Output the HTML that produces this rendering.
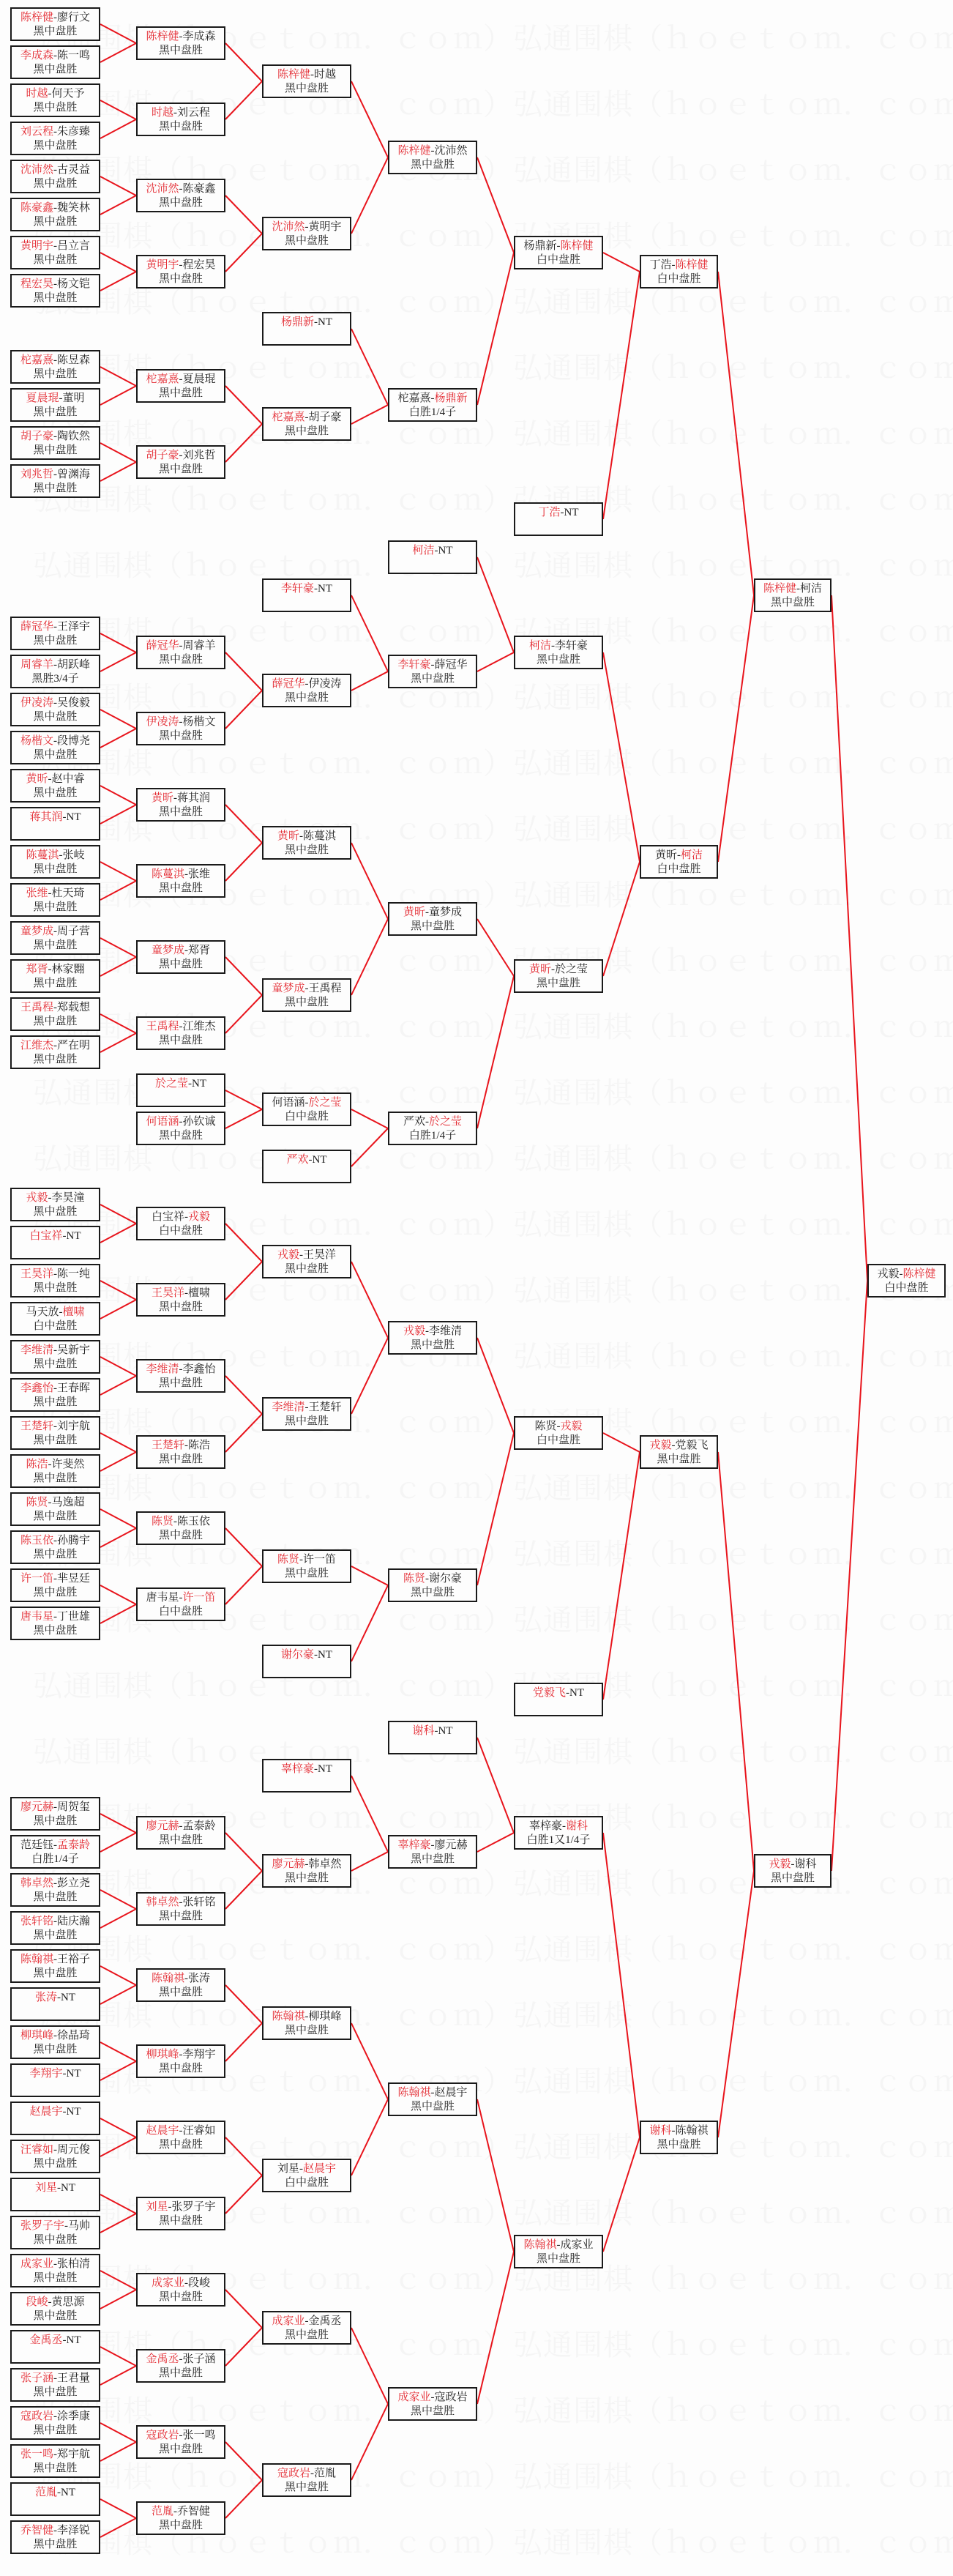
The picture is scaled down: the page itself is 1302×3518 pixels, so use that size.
<!DOCTYPE html>
<html><head><meta charset="utf-8">
<style>
html,body{margin:0;padding:0;}
body{width:1302px;height:3497px;position:relative;background:#fdfdfd;overflow:hidden;
font-family:"Liberation Serif","Noto Serif CJK SC",serif;}
.wm{position:absolute;left:45px;top:8px;font-family:"Liberation Serif","Noto Serif CJK SC",serif;font-size:40px;line-height:90px;color:#f5f5f5;white-space:pre;letter-spacing:1px;}
svg{position:absolute;left:0;top:0;}
.b{position:absolute;box-sizing:border-box;height:46px;border:2px solid #1a1a1a;background:#fdfdfd;
text-align:center;font-size:15px;line-height:19px;padding-top:3px;color:#222;white-space:nowrap;}
.b i{font-style:normal;color:#e3262e;}
.c1{left:14px;width:123px}.c2{left:186px;width:122px}.c3{left:358px;width:122px}
.c4{left:530px;width:122px}.c5{left:702px;width:122px}.c6{left:874px;width:107px}
.c7{left:1030px;width:106px}.c8{left:1185px;width:107px}
</style></head><body>
<div class="wm">弘通围棋（ｈｏｅｔｏｍ．ｃｏｍ）弘通围棋（ｈｏｅｔｏｍ．ｃｏｍ）
弘通围棋（ｈｏｅｔｏｍ．ｃｏｍ）弘通围棋（ｈｏｅｔｏｍ．ｃｏｍ）
弘通围棋（ｈｏｅｔｏｍ．ｃｏｍ）弘通围棋（ｈｏｅｔｏｍ．ｃｏｍ）
弘通围棋（ｈｏｅｔｏｍ．ｃｏｍ）弘通围棋（ｈｏｅｔｏｍ．ｃｏｍ）
弘通围棋（ｈｏｅｔｏｍ．ｃｏｍ）弘通围棋（ｈｏｅｔｏｍ．ｃｏｍ）
弘通围棋（ｈｏｅｔｏｍ．ｃｏｍ）弘通围棋（ｈｏｅｔｏｍ．ｃｏｍ）
弘通围棋（ｈｏｅｔｏｍ．ｃｏｍ）弘通围棋（ｈｏｅｔｏｍ．ｃｏｍ）
弘通围棋（ｈｏｅｔｏｍ．ｃｏｍ）弘通围棋（ｈｏｅｔｏｍ．ｃｏｍ）
弘通围棋（ｈｏｅｔｏｍ．ｃｏｍ）弘通围棋（ｈｏｅｔｏｍ．ｃｏｍ）
弘通围棋（ｈｏｅｔｏｍ．ｃｏｍ）弘通围棋（ｈｏｅｔｏｍ．ｃｏｍ）
弘通围棋（ｈｏｅｔｏｍ．ｃｏｍ）弘通围棋（ｈｏｅｔｏｍ．ｃｏｍ）
弘通围棋（ｈｏｅｔｏｍ．ｃｏｍ）弘通围棋（ｈｏｅｔｏｍ．ｃｏｍ）
弘通围棋（ｈｏｅｔｏｍ．ｃｏｍ）弘通围棋（ｈｏｅｔｏｍ．ｃｏｍ）
弘通围棋（ｈｏｅｔｏｍ．ｃｏｍ）弘通围棋（ｈｏｅｔｏｍ．ｃｏｍ）
弘通围棋（ｈｏｅｔｏｍ．ｃｏｍ）弘通围棋（ｈｏｅｔｏｍ．ｃｏｍ）
弘通围棋（ｈｏｅｔｏｍ．ｃｏｍ）弘通围棋（ｈｏｅｔｏｍ．ｃｏｍ）
弘通围棋（ｈｏｅｔｏｍ．ｃｏｍ）弘通围棋（ｈｏｅｔｏｍ．ｃｏｍ）
弘通围棋（ｈｏｅｔｏｍ．ｃｏｍ）弘通围棋（ｈｏｅｔｏｍ．ｃｏｍ）
弘通围棋（ｈｏｅｔｏｍ．ｃｏｍ）弘通围棋（ｈｏｅｔｏｍ．ｃｏｍ）
弘通围棋（ｈｏｅｔｏｍ．ｃｏｍ）弘通围棋（ｈｏｅｔｏｍ．ｃｏｍ）
弘通围棋（ｈｏｅｔｏｍ．ｃｏｍ）弘通围棋（ｈｏｅｔｏｍ．ｃｏｍ）
弘通围棋（ｈｏｅｔｏｍ．ｃｏｍ）弘通围棋（ｈｏｅｔｏｍ．ｃｏｍ）
弘通围棋（ｈｏｅｔｏｍ．ｃｏｍ）弘通围棋（ｈｏｅｔｏｍ．ｃｏｍ）
弘通围棋（ｈｏｅｔｏｍ．ｃｏｍ）弘通围棋（ｈｏｅｔｏｍ．ｃｏｍ）
弘通围棋（ｈｏｅｔｏｍ．ｃｏｍ）弘通围棋（ｈｏｅｔｏｍ．ｃｏｍ）
弘通围棋（ｈｏｅｔｏｍ．ｃｏｍ）弘通围棋（ｈｏｅｔｏｍ．ｃｏｍ）
弘通围棋（ｈｏｅｔｏｍ．ｃｏｍ）弘通围棋（ｈｏｅｔｏｍ．ｃｏｍ）
弘通围棋（ｈｏｅｔｏｍ．ｃｏｍ）弘通围棋（ｈｏｅｔｏｍ．ｃｏｍ）
弘通围棋（ｈｏｅｔｏｍ．ｃｏｍ）弘通围棋（ｈｏｅｔｏｍ．ｃｏｍ）
弘通围棋（ｈｏｅｔｏｍ．ｃｏｍ）弘通围棋（ｈｏｅｔｏｍ．ｃｏｍ）
弘通围棋（ｈｏｅｔｏｍ．ｃｏｍ）弘通围棋（ｈｏｅｔｏｍ．ｃｏｍ）
弘通围棋（ｈｏｅｔｏｍ．ｃｏｍ）弘通围棋（ｈｏｅｔｏｍ．ｃｏｍ）
弘通围棋（ｈｏｅｔｏｍ．ｃｏｍ）弘通围棋（ｈｏｅｔｏｍ．ｃｏｍ）
弘通围棋（ｈｏｅｔｏｍ．ｃｏｍ）弘通围棋（ｈｏｅｔｏｍ．ｃｏｍ）
弘通围棋（ｈｏｅｔｏｍ．ｃｏｍ）弘通围棋（ｈｏｅｔｏｍ．ｃｏｍ）
弘通围棋（ｈｏｅｔｏｍ．ｃｏｍ）弘通围棋（ｈｏｅｔｏｍ．ｃｏｍ）
弘通围棋（ｈｏｅｔｏｍ．ｃｏｍ）弘通围棋（ｈｏｅｔｏｍ．ｃｏｍ）
弘通围棋（ｈｏｅｔｏｍ．ｃｏｍ）弘通围棋（ｈｏｅｔｏｍ．ｃｏｍ）
弘通围棋（ｈｏｅｔｏｍ．ｃｏｍ）弘通围棋（ｈｏｅｔｏｍ．ｃｏｍ）</div>

<svg width="1302" height="3497" viewBox="0 0 1302 3497">
<g fill="none" stroke="#e8141c" stroke-width="2">
<polyline points="137,33 186,59 137,85"/>
<polyline points="137,137 186,163 137,189"/>
<polyline points="137,241 186,267 137,293"/>
<polyline points="137,345 186,371 137,397"/>
<polyline points="137,501 186,527 137,553"/>
<polyline points="137,605 186,631 137,657"/>
<polyline points="137,865 186,891 137,917"/>
<polyline points="137,969 186,995 137,1021"/>
<polyline points="137,1073 186,1099 137,1125"/>
<polyline points="137,1177 186,1203 137,1229"/>
<polyline points="137,1281 186,1307 137,1333"/>
<polyline points="137,1385 186,1411 137,1437"/>
<polyline points="137,1645 186,1671 137,1697"/>
<polyline points="137,1749 186,1775 137,1801"/>
<polyline points="137,1853 186,1879 137,1905"/>
<polyline points="137,1957 186,1983 137,2009"/>
<polyline points="137,2061 186,2087 137,2113"/>
<polyline points="137,2165 186,2191 137,2217"/>
<polyline points="137,2477 186,2503 137,2529"/>
<polyline points="137,2581 186,2607 137,2633"/>
<polyline points="137,2685 186,2711 137,2737"/>
<polyline points="137,2789 186,2815 137,2841"/>
<polyline points="137,2893 186,2919 137,2945"/>
<polyline points="137,2997 186,3023 137,3049"/>
<polyline points="137,3101 186,3127 137,3153"/>
<polyline points="137,3205 186,3231 137,3257"/>
<polyline points="137,3309 186,3335 137,3361"/>
<polyline points="137,3413 186,3439 137,3465"/>
<polyline points="308,59 358,111 308,163"/>
<polyline points="308,267 358,319 308,371"/>
<polyline points="308,527 358,579 308,631"/>
<polyline points="308,891 358,943 308,995"/>
<polyline points="308,1099 358,1151 308,1203"/>
<polyline points="308,1307 358,1359 308,1411"/>
<polyline points="308,1489 358,1515 308,1541"/>
<polyline points="308,1671 358,1723 308,1775"/>
<polyline points="308,1879 358,1931 308,1983"/>
<polyline points="308,2087 358,2139 308,2191"/>
<polyline points="308,2503 358,2555 308,2607"/>
<polyline points="308,2711 358,2763 308,2815"/>
<polyline points="308,2919 358,2971 308,3023"/>
<polyline points="308,3127 358,3179 308,3231"/>
<polyline points="308,3335 358,3387 308,3439"/>
<polyline points="480,111 530,215 480,319"/>
<polyline points="480,449 530,553 480,579"/>
<polyline points="480,813 530,917 480,943"/>
<polyline points="480,1151 530,1255 480,1359"/>
<polyline points="480,1515 530,1541 480,1593"/>
<polyline points="480,1723 530,1827 480,1931"/>
<polyline points="480,2139 530,2165 480,2269"/>
<polyline points="480,2425 530,2529 480,2555"/>
<polyline points="480,2763 530,2867 480,2971"/>
<polyline points="480,3179 530,3283 480,3387"/>
<polyline points="652,215 702,345 652,553"/>
<polyline points="652,761 702,891 652,917"/>
<polyline points="652,1255 702,1333 652,1541"/>
<polyline points="652,1827 702,1957 652,2165"/>
<polyline points="652,2373 702,2503 652,2529"/>
<polyline points="652,2867 702,3075 652,3283"/>
<polyline points="824,345 874,371 824,709"/>
<polyline points="824,891 874,1177 824,1333"/>
<polyline points="824,1957 874,1983 824,2321"/>
<polyline points="824,2503 874,2919 824,3075"/>
<polyline points="981,371 1030,813 981,1177"/>
<polyline points="981,1983 1030,2555 981,2919"/>
<polyline points="1136,813 1185,1749 1136,2555"/>
</g>
</svg>

<div class="b c1" style="top:10px"><i>陈梓健</i>-廖行文<br>黑中盘胜</div>
<div class="b c1" style="top:62px"><i>李成森</i>-陈一鸣<br>黑中盘胜</div>
<div class="b c1" style="top:114px"><i>时越</i>-何天予<br>黑中盘胜</div>
<div class="b c1" style="top:166px"><i>刘云程</i>-朱彦臻<br>黑中盘胜</div>
<div class="b c1" style="top:218px"><i>沈沛然</i>-古灵益<br>黑中盘胜</div>
<div class="b c1" style="top:270px"><i>陈豪鑫</i>-魏笑林<br>黑中盘胜</div>
<div class="b c1" style="top:322px"><i>黄明宇</i>-吕立言<br>黑中盘胜</div>
<div class="b c1" style="top:374px"><i>程宏昊</i>-杨文铠<br>黑中盘胜</div>
<div class="b c1" style="top:478px"><i>柁嘉熹</i>-陈昱森<br>黑中盘胜</div>
<div class="b c1" style="top:530px"><i>夏晨琨</i>-董明<br>黑中盘胜</div>
<div class="b c1" style="top:582px"><i>胡子豪</i>-陶钦然<br>黑中盘胜</div>
<div class="b c1" style="top:634px"><i>刘兆哲</i>-曾渊海<br>黑中盘胜</div>
<div class="b c1" style="top:842px"><i>薛冠华</i>-王泽宇<br>黑中盘胜</div>
<div class="b c1" style="top:894px"><i>周睿羊</i>-胡跃峰<br>黑胜3/4子</div>
<div class="b c1" style="top:946px"><i>伊凌涛</i>-吴俊毅<br>黑中盘胜</div>
<div class="b c1" style="top:998px"><i>杨楷文</i>-段博尧<br>黑中盘胜</div>
<div class="b c1" style="top:1050px"><i>黄昕</i>-赵中睿<br>黑中盘胜</div>
<div class="b c1" style="top:1102px"><i>蒋其润</i>-NT<br></div>
<div class="b c1" style="top:1154px"><i>陈蔓淇</i>-张岐<br>黑中盘胜</div>
<div class="b c1" style="top:1206px"><i>张维</i>-杜天琦<br>黑中盘胜</div>
<div class="b c1" style="top:1258px"><i>童梦成</i>-周子营<br>黑中盘胜</div>
<div class="b c1" style="top:1310px"><i>郑胥</i>-林家翾<br>黑中盘胜</div>
<div class="b c1" style="top:1362px"><i>王禹程</i>-郑载想<br>黑中盘胜</div>
<div class="b c1" style="top:1414px"><i>江维杰</i>-严在明<br>黑中盘胜</div>
<div class="b c1" style="top:1622px"><i>戎毅</i>-李昊潼<br>黑中盘胜</div>
<div class="b c1" style="top:1674px"><i>白宝祥</i>-NT<br></div>
<div class="b c1" style="top:1726px"><i>王昊洋</i>-陈一纯<br>黑中盘胜</div>
<div class="b c1" style="top:1778px">马天放-<i>檀啸</i><br>白中盘胜</div>
<div class="b c1" style="top:1830px"><i>李维清</i>-吴新宇<br>黑中盘胜</div>
<div class="b c1" style="top:1882px"><i>李鑫怡</i>-王春晖<br>黑中盘胜</div>
<div class="b c1" style="top:1934px"><i>王楚轩</i>-刘宇航<br>黑中盘胜</div>
<div class="b c1" style="top:1986px"><i>陈浩</i>-许斐然<br>黑中盘胜</div>
<div class="b c1" style="top:2038px"><i>陈贤</i>-马逸超<br>黑中盘胜</div>
<div class="b c1" style="top:2090px"><i>陈玉依</i>-孙腾宇<br>黑中盘胜</div>
<div class="b c1" style="top:2142px"><i>许一笛</i>-芈昱廷<br>黑中盘胜</div>
<div class="b c1" style="top:2194px"><i>唐韦星</i>-丁世雄<br>黑中盘胜</div>
<div class="b c1" style="top:2454px"><i>廖元赫</i>-周贺玺<br>黑中盘胜</div>
<div class="b c1" style="top:2506px">范廷钰-<i>孟泰龄</i><br>白胜1/4子</div>
<div class="b c1" style="top:2558px"><i>韩卓然</i>-彭立尧<br>黑中盘胜</div>
<div class="b c1" style="top:2610px"><i>张轩铭</i>-陆庆瀚<br>黑中盘胜</div>
<div class="b c1" style="top:2662px"><i>陈翰祺</i>-王裕子<br>黑中盘胜</div>
<div class="b c1" style="top:2714px"><i>张涛</i>-NT<br></div>
<div class="b c1" style="top:2766px"><i>柳琪峰</i>-徐晶琦<br>黑中盘胜</div>
<div class="b c1" style="top:2818px"><i>李翔宇</i>-NT<br></div>
<div class="b c1" style="top:2870px"><i>赵晨宇</i>-NT<br></div>
<div class="b c1" style="top:2922px"><i>汪睿如</i>-周元俊<br>黑中盘胜</div>
<div class="b c1" style="top:2974px"><i>刘星</i>-NT<br></div>
<div class="b c1" style="top:3026px"><i>张罗子宇</i>-马帅<br>黑中盘胜</div>
<div class="b c1" style="top:3078px"><i>成家业</i>-张柏清<br>黑中盘胜</div>
<div class="b c1" style="top:3130px"><i>段峻</i>-黄思源<br>黑中盘胜</div>
<div class="b c1" style="top:3182px"><i>金禹丞</i>-NT<br></div>
<div class="b c1" style="top:3234px"><i>张子涵</i>-王君量<br>黑中盘胜</div>
<div class="b c1" style="top:3286px"><i>寇政岩</i>-涂季康<br>黑中盘胜</div>
<div class="b c1" style="top:3338px"><i>张一鸣</i>-郑宇航<br>黑中盘胜</div>
<div class="b c1" style="top:3390px"><i>范胤</i>-NT<br></div>
<div class="b c1" style="top:3442px"><i>乔智健</i>-李泽锐<br>黑中盘胜</div>

<div class="b c2" style="top:36px"><i>陈梓健</i>-李成森<br>黑中盘胜</div>
<div class="b c2" style="top:140px"><i>时越</i>-刘云程<br>黑中盘胜</div>
<div class="b c2" style="top:244px"><i>沈沛然</i>-陈豪鑫<br>黑中盘胜</div>
<div class="b c2" style="top:348px"><i>黄明宇</i>-程宏昊<br>黑中盘胜</div>
<div class="b c2" style="top:504px"><i>柁嘉熹</i>-夏晨琨<br>黑中盘胜</div>
<div class="b c2" style="top:608px"><i>胡子豪</i>-刘兆哲<br>黑中盘胜</div>
<div class="b c2" style="top:868px"><i>薛冠华</i>-周睿羊<br>黑中盘胜</div>
<div class="b c2" style="top:972px"><i>伊凌涛</i>-杨楷文<br>黑中盘胜</div>
<div class="b c2" style="top:1076px"><i>黄昕</i>-蒋其润<br>黑中盘胜</div>
<div class="b c2" style="top:1180px"><i>陈蔓淇</i>-张维<br>黑中盘胜</div>
<div class="b c2" style="top:1284px"><i>童梦成</i>-郑胥<br>黑中盘胜</div>
<div class="b c2" style="top:1388px"><i>王禹程</i>-江维杰<br>黑中盘胜</div>
<div class="b c2" style="top:1466px"><i>於之莹</i>-NT<br></div>
<div class="b c2" style="top:1518px"><i>何语涵</i>-孙钦诚<br>黑中盘胜</div>
<div class="b c2" style="top:1648px">白宝祥-<i>戎毅</i><br>白中盘胜</div>
<div class="b c2" style="top:1752px"><i>王昊洋</i>-檀啸<br>黑中盘胜</div>
<div class="b c2" style="top:1856px"><i>李维清</i>-李鑫怡<br>黑中盘胜</div>
<div class="b c2" style="top:1960px"><i>王楚轩</i>-陈浩<br>黑中盘胜</div>
<div class="b c2" style="top:2064px"><i>陈贤</i>-陈玉依<br>黑中盘胜</div>
<div class="b c2" style="top:2168px">唐韦星-<i>许一笛</i><br>白中盘胜</div>
<div class="b c2" style="top:2480px"><i>廖元赫</i>-孟泰龄<br>黑中盘胜</div>
<div class="b c2" style="top:2584px"><i>韩卓然</i>-张轩铭<br>黑中盘胜</div>
<div class="b c2" style="top:2688px"><i>陈翰祺</i>-张涛<br>黑中盘胜</div>
<div class="b c2" style="top:2792px"><i>柳琪峰</i>-李翔宇<br>黑中盘胜</div>
<div class="b c2" style="top:2896px"><i>赵晨宇</i>-汪睿如<br>黑中盘胜</div>
<div class="b c2" style="top:3000px"><i>刘星</i>-张罗子宇<br>黑中盘胜</div>
<div class="b c2" style="top:3104px"><i>成家业</i>-段峻<br>黑中盘胜</div>
<div class="b c2" style="top:3208px"><i>金禹丞</i>-张子涵<br>黑中盘胜</div>
<div class="b c2" style="top:3312px"><i>寇政岩</i>-张一鸣<br>黑中盘胜</div>
<div class="b c2" style="top:3416px"><i>范胤</i>-乔智健<br>黑中盘胜</div>

<div class="b c3" style="top:88px"><i>陈梓健</i>-时越<br>黑中盘胜</div>
<div class="b c3" style="top:296px"><i>沈沛然</i>-黄明宇<br>黑中盘胜</div>
<div class="b c3" style="top:426px"><i>杨鼎新</i>-NT<br></div>
<div class="b c3" style="top:556px"><i>柁嘉熹</i>-胡子豪<br>黑中盘胜</div>
<div class="b c3" style="top:790px"><i>李轩豪</i>-NT<br></div>
<div class="b c3" style="top:920px"><i>薛冠华</i>-伊凌涛<br>黑中盘胜</div>
<div class="b c3" style="top:1128px"><i>黄昕</i>-陈蔓淇<br>黑中盘胜</div>
<div class="b c3" style="top:1336px"><i>童梦成</i>-王禹程<br>黑中盘胜</div>
<div class="b c3" style="top:1492px">何语涵-<i>於之莹</i><br>白中盘胜</div>
<div class="b c3" style="top:1570px"><i>严欢</i>-NT<br></div>
<div class="b c3" style="top:1700px"><i>戎毅</i>-王昊洋<br>黑中盘胜</div>
<div class="b c3" style="top:1908px"><i>李维清</i>-王楚轩<br>黑中盘胜</div>
<div class="b c3" style="top:2116px"><i>陈贤</i>-许一笛<br>黑中盘胜</div>
<div class="b c3" style="top:2246px"><i>谢尔豪</i>-NT<br></div>
<div class="b c3" style="top:2402px"><i>辜梓豪</i>-NT<br></div>
<div class="b c3" style="top:2532px"><i>廖元赫</i>-韩卓然<br>黑中盘胜</div>
<div class="b c3" style="top:2740px"><i>陈翰祺</i>-柳琪峰<br>黑中盘胜</div>
<div class="b c3" style="top:2948px">刘星-<i>赵晨宇</i><br>白中盘胜</div>
<div class="b c3" style="top:3156px"><i>成家业</i>-金禹丞<br>黑中盘胜</div>
<div class="b c3" style="top:3364px"><i>寇政岩</i>-范胤<br>黑中盘胜</div>

<div class="b c4" style="top:192px"><i>陈梓健</i>-沈沛然<br>黑中盘胜</div>
<div class="b c4" style="top:530px">柁嘉熹-<i>杨鼎新</i><br>白胜1/4子</div>
<div class="b c4" style="top:738px"><i>柯洁</i>-NT<br></div>
<div class="b c4" style="top:894px"><i>李轩豪</i>-薛冠华<br>黑中盘胜</div>
<div class="b c4" style="top:1232px"><i>黄昕</i>-童梦成<br>黑中盘胜</div>
<div class="b c4" style="top:1518px">严欢-<i>於之莹</i><br>白胜1/4子</div>
<div class="b c4" style="top:1804px"><i>戎毅</i>-李维清<br>黑中盘胜</div>
<div class="b c4" style="top:2142px"><i>陈贤</i>-谢尔豪<br>黑中盘胜</div>
<div class="b c4" style="top:2350px"><i>谢科</i>-NT<br></div>
<div class="b c4" style="top:2506px"><i>辜梓豪</i>-廖元赫<br>黑中盘胜</div>
<div class="b c4" style="top:2844px"><i>陈翰祺</i>-赵晨宇<br>黑中盘胜</div>
<div class="b c4" style="top:3260px"><i>成家业</i>-寇政岩<br>黑中盘胜</div>

<div class="b c5" style="top:322px">杨鼎新-<i>陈梓健</i><br>白中盘胜</div>
<div class="b c5" style="top:686px"><i>丁浩</i>-NT<br></div>
<div class="b c5" style="top:868px"><i>柯洁</i>-李轩豪<br>黑中盘胜</div>
<div class="b c5" style="top:1310px"><i>黄昕</i>-於之莹<br>黑中盘胜</div>
<div class="b c5" style="top:1934px">陈贤-<i>戎毅</i><br>白中盘胜</div>
<div class="b c5" style="top:2298px"><i>党毅飞</i>-NT<br></div>
<div class="b c5" style="top:2480px">辜梓豪-<i>谢科</i><br>白胜1又1/4子</div>
<div class="b c5" style="top:3052px"><i>陈翰祺</i>-成家业<br>黑中盘胜</div>

<div class="b c6" style="top:348px">丁浩-<i>陈梓健</i><br>白中盘胜</div>
<div class="b c6" style="top:1154px">黄昕-<i>柯洁</i><br>白中盘胜</div>
<div class="b c6" style="top:1960px"><i>戎毅</i>-党毅飞<br>黑中盘胜</div>
<div class="b c6" style="top:2896px"><i>谢科</i>-陈翰祺<br>黑中盘胜</div>

<div class="b c7" style="top:790px"><i>陈梓健</i>-柯洁<br>黑中盘胜</div>
<div class="b c7" style="top:2532px"><i>戎毅</i>-谢科<br>黑中盘胜</div>

<div class="b c8" style="top:1726px">戎毅-<i>陈梓健</i><br>白中盘胜</div>
</body></html>
